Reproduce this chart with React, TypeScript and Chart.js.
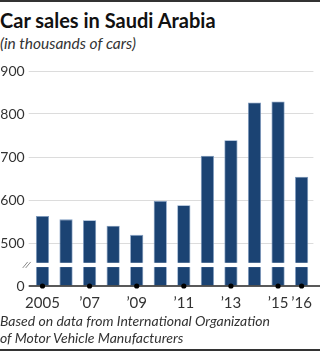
import React, { useEffect, useRef } from "react";
import { Chart, registerables } from "chart.js";

Chart.register(...registerables);

const years = ["2005", "2006", "2007", "2008", "2009", "2010", "2011", "2012", "2013", "2014", "2015", "2016"];
const xTickLabels = ["2005", "", "\u201907", "", "\u201909", "", "\u201911", "", "\u201913", "", "\u201915", "\u201916"];
const sales = [563, 555, 553, 540, 519, 598, 588, 703, 739, 827, 829, 654];
const yTickValues = [0, 500, 600, 700, 800, 900];
const BREAK_OFFSET = 400; // values >= 500 are shifted down by this amount (broken axis)

const toAxis = (v: number) => (v === 0 ? 0 : v - BREAK_OFFSET);

const FONT = "Lato, 'Noto Sans', sans-serif";

const brokenAxisPlugin = {
  id: "brokenAxis",
  afterDatasetsDraw(chart: any) {
    const { ctx, chartArea, scales } = chart;
    const x = scales.x;
    const y = scales.y;
    ctx.save();
    // gap across the bars
    const gTop = y.getPixelForValue(54);
    const gBot = y.getPixelForValue(44);
    ctx.fillStyle = "#ffffff";
    ctx.fillRect(chartArea.left, gTop, chartArea.right - chartArea.left + 2, gBot - gTop);
    // break marks
    ctx.strokeStyle = "#8a8a8a";
    ctx.lineWidth = 1;
    const mid = (gTop + gBot) / 2;
    for (const dx of [0, 3]) {
      ctx.beginPath();
      ctx.moveTo(chartArea.left - 8 + dx, mid + 3);
      ctx.lineTo(chartArea.left - 3 + dx, mid - 3);
      ctx.stroke();
    }
    // zero axis line
    const y0 = y.getPixelForValue(0);
    ctx.strokeStyle = "#222222";
    ctx.lineWidth = 1.5;
    ctx.beginPath();
    ctx.moveTo(chartArea.left - 2, y0);
    ctx.lineTo(chart.width, y0);
    ctx.stroke();
    // dots at labelled ticks
    ctx.fillStyle = "#000000";
    xTickLabels.forEach((lab, i) => {
      if (!lab) return;
      const px = x.getPixelForValue(i);
      ctx.beginPath();
      ctx.arc(px, y0, 2.6, 0, Math.PI * 2);
      ctx.fill();
    });
    ctx.restore();
  },
};

export default function App() {
  const ref = useRef<HTMLCanvasElement>(null);
  useEffect(() => {
    document.body.style.margin = "0";
    const chart = new Chart(ref.current!, {
      type: "bar",
      data: {
        labels: years,
        datasets: [
          {
            data: sales.map(toAxis),
            backgroundColor: "#1b4373",
            borderColor: "#7f9cc2",
            borderWidth: 0.8,
            barPercentage: 0.56,
            categoryPercentage: 1,
          },
        ],
      },
      options: {
        animation: false,
        responsive: false,
        devicePixelRatio: 1,
        layout: { padding: { top: 16, right: 2, left: 0, bottom: 0 } },
        plugins: { legend: { display: false }, tooltip: { enabled: false } },
        scales: {
          x: {
            offset: true,
            grid: { display: false, drawTicks: false },
            border: { display: false },
            ticks: {
              autoSkip: false,
              maxRotation: 0,
              padding: 8,
              color: "#333333",
              font: { family: FONT, size: 15 },
              callback: (_v: any, i: number) => xTickLabels[i],
            },
            afterFit: (s: any) => {
              s.height = 29;
            },
          },
          y: {
            min: 0,
            max: toAxis(900),
            afterBuildTicks: (s: any) => {
              s.ticks = yTickValues.map((v) => ({ value: toAxis(v) }));
            },
            grid: {
              color: (c: any) => (c.tick && c.tick.value === 0 ? "rgba(0,0,0,0)" : "#dcdcdc"),
              lineWidth: 1,
              drawTicks: true,
              tickLength: 2,
            },
            border: { display: false },
            ticks: {
              padding: 4,
              color: "#333333",
              font: { family: FONT, size: 14 },
              callback: (v: any) => {
                const idx = yTickValues.findIndex((t) => toAxis(t) === v);
                return idx >= 0 ? String(yTickValues[idx]) : "";
              },
            },
            afterFit: (s: any) => {
              s.width = 30.7;
            },
          },
        },
      },
      plugins: [brokenAxisPlugin],
    });
    return () => chart.destroy();
  }, []);

  return (
    <div style={{ position: "relative", width: 320, height: 353, background: "#fff", overflow: "hidden", fontFamily: FONT }}>
      <div style={{ position: "absolute", left: 0, top: 0, width: 320, height: 2, background: "#333" }} />
      <div style={{ position: "absolute", left: 0, top: 7, fontSize: 20, fontWeight: 700, color: "#111", whiteSpace: "nowrap", lineHeight: "26px" }}>
        Car sales in Saudi Arabia
      </div>
      <div style={{ position: "absolute", left: 0, top: 33, fontSize: 15.5, fontStyle: "italic", color: "#333", whiteSpace: "nowrap", lineHeight: "20px" }}>
        (in thousands of cars)
      </div>
      <canvas ref={ref} width={320} height={260} style={{ position: "absolute", left: 0, top: 55, display: "block" }} />
      <div style={{ position: "absolute", left: 0, top: 312, fontSize: 14, fontStyle: "italic", color: "#333", lineHeight: "17px", whiteSpace: "nowrap" }}>
        Based on data from International Organization
        <br />
        of Motor Vehicle Manufacturers
      </div>
      <div style={{ position: "absolute", left: 0, top: 349, width: 320, height: 2, background: "#333" }} />
    </div>
  );
}
